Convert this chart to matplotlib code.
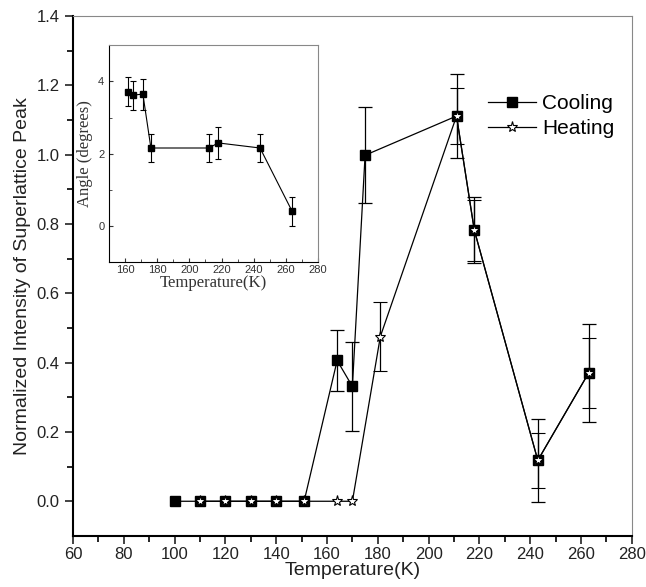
import matplotlib
matplotlib.use("Agg")
import matplotlib.pyplot as plt
from matplotlib.lines import Line2D
import numpy as np

# main plot data
cool_T = np.array([100, 110, 120, 130, 140, 151, 164, 170, 175, 211, 218, 243, 263])
cool_I = np.array([0, 0, 0, 0, 0, 0, 0.406, 0.331, 0.998, 1.111, 0.782, 0.118, 0.370])
cool_err = np.array([0, 0, 0, 0, 0, 0, 0.089, 0.128, 0.139, 0.12, 0.095, 0.12, 0.14])

heat_T = np.array([110, 120, 130, 140, 151, 164, 170, 181, 211, 218, 243, 263])
heat_I = np.array([0, 0, 0, 0, 0, 0, 0, 0.475, 1.111, 0.782, 0.118, 0.370])
heat_err = np.array([0, 0, 0, 0, 0, 0, 0, 0.1, 0.08, 0.088, 0.08, 0.10])

# inset data
ang_T = np.array([162, 165, 171, 176, 212, 218, 244, 264])
ang = np.array([3.71, 3.62, 3.65, 2.16, 2.16, 2.30, 2.16, 0.41])
ang_err = np.array([0.4, 0.4, 0.43, 0.4, 0.4, 0.44, 0.4, 0.4])

plt.rcParams['font.family'] = ['Liberation Sans', 'DejaVu Sans']

fig = plt.figure(figsize=(6.46, 5.87), dpi=100)
ax = fig.add_axes([0.113, 0.087, 0.865, 0.886])

ax.errorbar(cool_T, cool_I, yerr=np.where(cool_err > 0, cool_err, np.nan), color='black', lw=0.9,
            marker='s', ms=6.5, mfc='black', mec='black', capsize=5, elinewidth=0.9, capthick=0.9)
ax.errorbar(heat_T, heat_I, yerr=np.where(heat_err > 0, heat_err, np.nan), color='black', lw=0.9,
            marker='*', ms=8, mfc='white', mec='black', mew=0.8, capsize=5, elinewidth=0.9,
            capthick=0.9)

ax.set_xlim(60, 280)
ax.set_ylim(-0.1, 1.4)
ax.set_xticks(np.arange(60, 281, 20))
ax.set_xticks(np.arange(70, 280, 20), minor=True)
ax.set_yticks(np.arange(0, 1.41, 0.2))
ax.set_yticks(np.arange(0.1, 1.4, 0.2), minor=True)
ax.yaxis.set_major_formatter(matplotlib.ticker.FormatStrFormatter('%.1f'))
ax.tick_params(which='major', direction='out', length=6, width=1.2, labelsize=12, colors='#222222')
ax.tick_params(which='minor', direction='out', length=4, width=1.2)
ax.tick_params(axis='x', pad=2)
ax.spines['top'].set_color('#888888')
ax.spines['right'].set_color('#888888')
ax.spines['left'].set_linewidth(1.5)
ax.spines['bottom'].set_linewidth(1.5)
ax.spines['top'].set_linewidth(0.8)
ax.spines['right'].set_linewidth(0.8)
ax.set_xlabel('Temperature(K)', fontsize=14, labelpad=0, color='#222222')
ax.set_ylabel('Normalized Intensity of Superlattice Peak', fontsize=14, labelpad=4, color='#222222')

handles = [Line2D([], [], color='black', lw=0.9, marker='s', ms=6.5, mfc='black'),
           Line2D([], [], color='black', lw=0.9, marker='*', ms=8, mfc='white', mew=0.8)]
ax.legend(handles, ['Cooling', 'Heating'], loc='upper left', bbox_to_anchor=(0.742, 0.85),
          frameon=False, fontsize=15, numpoints=1, handlelength=2.3, handletextpad=0.3,
          labelspacing=0.3, borderaxespad=0, borderpad=0)

# inset
ins = fig.add_axes([0.169, 0.553, 0.323, 0.370])
ins.errorbar(ang_T, ang, yerr=ang_err, color='black', lw=0.8, marker='s', ms=4,
             capsize=2.5, elinewidth=0.8, capthick=0.8)
ins.set_xlim(150, 280)
ins.set_ylim(-1, 5)
ins.set_xticks(np.arange(160, 281, 20))
ins.set_xticks(np.arange(150, 281, 10), minor=True)
ins.set_yticks([0, 2, 4])
ins.set_yticks([-1, 1, 3, 5], minor=True)
ins.tick_params(which='both', direction='in', labelsize=8, colors='#333333')
ins.tick_params(which='major', length=3)
ins.tick_params(which='minor', length=2)
ins.tick_params(axis='x', pad=2)
for s in ins.spines.values():
    s.set_linewidth(0.8)
ins.spines['top'].set_color('#888888')
ins.spines['right'].set_color('#888888')
ins.set_xlabel('Temperature(K)', fontsize=12, family='Liberation Serif', labelpad=0, color='#333333')
ins.set_ylabel('Angle (degrees)', fontsize=12, family='Liberation Serif', labelpad=4, color='#333333')

fig.savefig('out.png', dpi=100)
